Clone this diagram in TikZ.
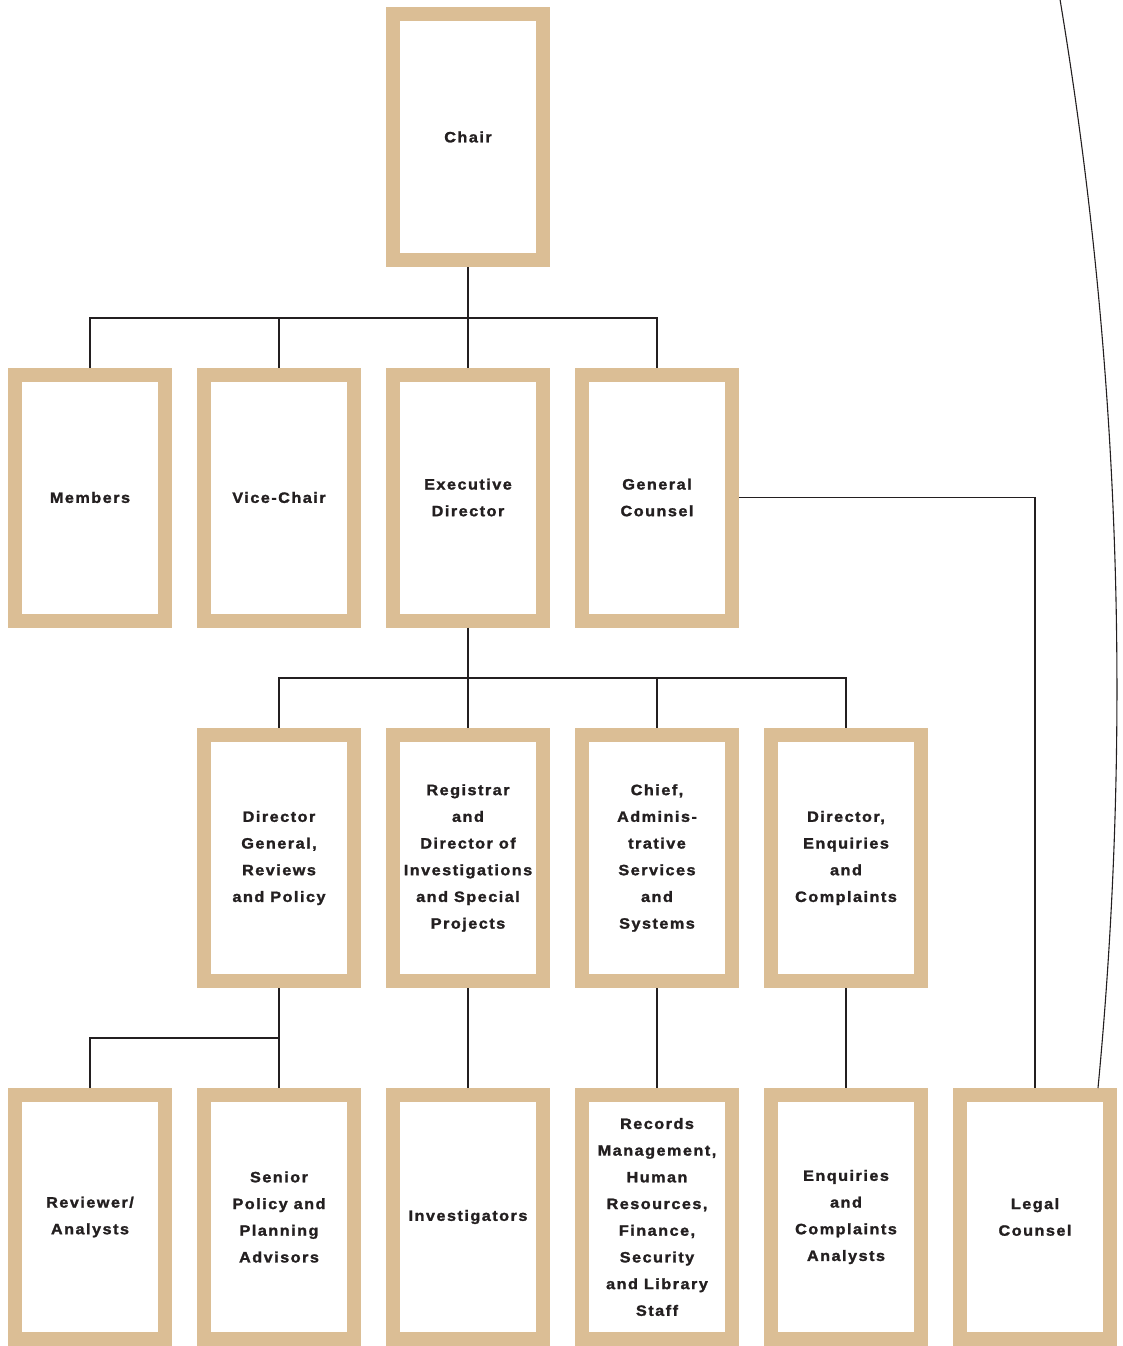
\documentclass[tikz,border=0pt]{standalone}
\usepackage{fontspec}
\setmainfont{Liberation Sans}[LetterSpace=10, BoldFeatures={FakeBold=1.6, FakeStretch=1.08}]
\definecolor{boxtan}{RGB}{219,190,149}
\definecolor{ink}{RGB}{35,31,32}
\begin{document}
\begin{tikzpicture}[x=1pt,y=-1pt,
  orgbox/.style={draw=boxtan, line width=14pt, fill=white, minimum width=150pt,
    minimum height=246pt, inner sep=0pt, align=center, text=ink,
    font=\fontsize{15}{26.7}\selectfont\bfseries},
  lowbox/.style={orgbox, minimum height=244pt},
  link/.style={draw=ink, line width=1.1pt}]
\fill[white] (0,0) rectangle (1123,1346);
\useasboundingbox (0,0) rectangle (1123,1346);
% row 1
\node[orgbox] (chair) at (468,137) {Chair};
% row 2
\node[orgbox] (members) at (90,497.5) {Members};
\node[orgbox] (vice) at (279,497.5) {Vice-Chair};
\node[orgbox] (exec) at (468,497.5) {Executive\\Director};
\node[orgbox] (gc) at (657,497.5) {General\\Counsel};
% row 3
\node[orgbox] (dg) at (279,858) {Director\\General,\\Reviews\\and Policy};
\node[orgbox] (reg) at (468,858) {Registrar\\and\\Director of\\Investigations\\and Special\\Projects};
\node[orgbox] (chief) at (657,858) {Chief,\\Adminis-\\trative\\Services\\and\\Systems};
\node[orgbox] (dec) at (846,858) {Director,\\Enquiries\\and\\Complaints};
% row 4
\node[lowbox] (rev) at (90,1217) {Reviewer/\\Analysts};
\node[lowbox] (spa) at (279,1217) {Senior\\Policy and\\Planning\\Advisors};
\node[lowbox] (inv) at (468,1217) {Investigators};
\node[lowbox] (rec) at (657,1217) {Records\\Management,\\Human\\Resources,\\Finance,\\Security\\and Library\\Staff};
\node[lowbox] (eca) at (846,1217) {Enquiries\\and\\Complaints\\Analysts};
\node[lowbox] (legal) at (1035,1217) {Legal\\Counsel};
% connectors
\draw[link] (chair.south) -- ++(0,51) coordinate (j1);
\draw[link] (j1) -| (members.north);
\draw[link] (j1) -| (vice.north);
\draw[link] (j1) -| (gc.north);
\draw[link] (j1) -- (exec.north);
\draw[link] (exec.south) -- ++(0,50.5) coordinate (j2);
\draw[link] (j2) -| (dg.north);
\draw[link] (j2) -| (chief.north);
\draw[link] (j2) -| (dec.north);
\draw[link] (j2) -- (reg.north);
\draw[link] (dg.south) -- ++(0,50) coordinate (j3);
\draw[link] (j3) -| (rev.north);
\draw[link] (j3) -- (spa.north);
\draw[link] (reg.south) -- (inv.north);
\draw[link] (chief.south) -- (rec.north);
\draw[link] (dec.south) -- (eca.north);
\draw[link] (gc.east) -| (legal.north);
% arc to legal counsel
\coordinate (ctop) at (1059.6,-3);
\coordinate (cend) at (1098,1088);
\draw[link] (ctop) .. controls (1120,359) and (1132.5,726) .. (cend);
\end{tikzpicture}
\end{document}
